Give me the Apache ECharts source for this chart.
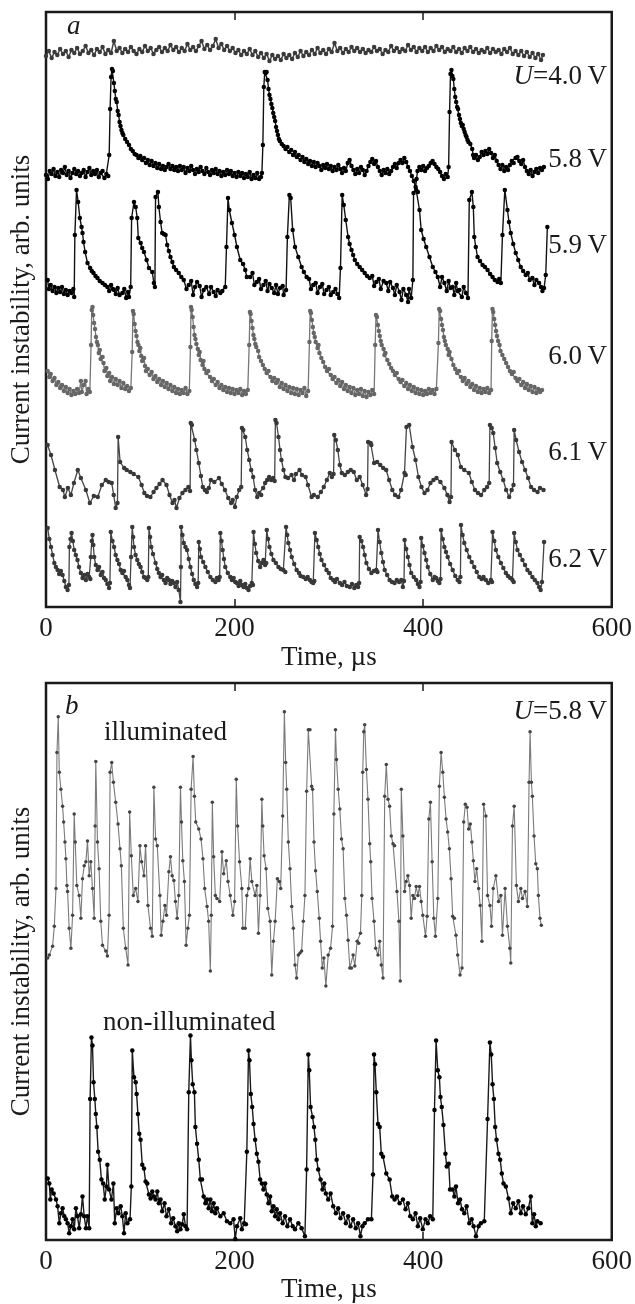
<!DOCTYPE html>
<html>
<head>
<meta charset="utf-8">
<script src="https://cdn.jsdelivr.net/npm/echarts@6/dist/echarts.min.js"></script>
<style>html,body{margin:0;padding:0;background:#fff}#c{width:635px;height:1304px}</style>
</head>
<body>
<div id="c"></div>
<script>
// ---- DATA (time in µs, current instability in arb. units) ----
const xTicks = [0, 200, 400, 600];
const seriesNamesA = ['U=4.0V', '5.8V', '5.9V', '6.0V', '6.1V', '6.2V'];
const seriesNamesB = ['illuminated', 'non-illuminated'];

const u40 = [[0,551],[3,556],[6,549],[9,555],[12,552],[15,558],[18,553],[21,556],[24,550],[27,557],[30,554],[33,559],[36,553],[39,556],[42,561],[45,554],[48,557],[51,552],[54,558],[57,555],[60,560],[63,553],[66,557],[69,554],[72,566],[75,556],[78,559],[81,554],[84,558],[87,555],[90,560],[93,556],[96,553],[99,558],[102,555],[105,561],[108,556],[111,559],[114,553],[117,557],[120,560],[123,555],[126,559],[129,556],[132,562],[135,557],[138,560],[141,555],[144,559],[147,556],[150,563],[153,557],[156,560],[159,556],[162,561],[165,566],[168,558],[171,562],[174,557],[177,561],[180,568],[183,559],[186,563],[189,557],[192,561],[195,556],[198,559],[201,554],[204,557],[207,552],[210,556],[213,553],[216,558],[219,552],[222,556],[225,550],[228,554],[231,549],[234,553],[237,546],[240,552],[243,548],[246,551],[249,547],[252,553],[255,549],[258,552],[261,548],[264,554],[267,550],[270,556],[273,551],[276,555],[279,552],[282,557],[285,553],[288,559],[291,554],[294,557],[297,553],[300,558],[303,555],[306,564],[309,556],[312,559],[315,554],[318,558],[321,555],[324,560],[327,556],[330,559],[333,555],[336,558],[339,554],[342,557],[345,555],[348,560],[351,556],[354,558],[357,553],[360,557],[363,555],[366,561],[369,556],[372,559],[375,555],[378,558],[381,556],[384,562],[387,557],[390,560],[393,555],[396,559],[399,556],[402,560],[405,555],[408,559],[411,556],[414,561],[417,557],[420,560],[423,555],[426,558],[429,556],[432,560],[435,555],[438,558],[441,554],[444,559],[447,556],[450,560],[453,555],[456,558],[459,554],[462,557],[465,555],[468,559],[471,554],[474,558],[477,555],[480,557],[483,553],[486,558],[489,555],[492,559],[495,553],[498,556],[501,552],[504,556],[507,551],[510,555],[513,550],[516,554],[519,549],[522,553],[525,547],[527,552]];

const u58 = [[0,432],[2,428],[4,436],[6,433],[8,438],[10,431],[12,435],[14,430],[16,437],[18,434],[20,440],[22,432],[24,436],[26,429],[28,434],[30,438],[32,433],[34,436],[36,431],[38,434],[40,437],[42,430],[44,435],[46,439],[48,432],[50,436],[52,433],[54,437],[56,430],[58,434],[60,436],[62,429],[64,433],[66,431],[67,452],[68,498],[69,530],[70,538],[71,536],[72,524],[73,516],[74,508],[75,505],[76,496],[77,492],[78,485],[79,481],[80,477],[81,474],[82,472],[84,468],[86,465],[88,462],[90,458],[92,456],[94,453],[96,452],[98,449],[100,451],[102,447],[104,449],[106,444],[108,447],[110,442],[112,446],[114,441],[116,444],[118,439],[120,443],[122,438],[124,441],[126,437],[128,440],[130,443],[132,438],[134,441],[136,437],[138,440],[140,436],[142,441],[144,437],[146,440],[148,434],[150,439],[152,436],[154,441],[156,437],[158,433],[160,438],[162,435],[164,440],[166,436],[168,433],[170,439],[172,435],[174,432],[176,437],[178,434],[180,438],[182,433],[184,436],[186,431],[188,435],[190,432],[192,437],[194,433],[196,436],[198,431],[200,434],[202,430],[204,435],[206,431],[208,434],[210,429],[212,433],[214,430],[216,435],[218,428],[220,432],[222,429],[224,434],[226,428],[228,430],[229,434],[230,462],[231,520],[232,535],[233,534],[234,535],[235,527],[236,518],[237,512],[238,508],[239,503],[240,499],[241,494],[242,490],[243,486],[244,480],[245,476],[246,472],[247,468],[248,466],[250,463],[252,461],[254,458],[256,460],[258,455],[260,457],[262,452],[264,455],[266,450],[268,452],[270,447],[272,450],[274,445],[276,448],[278,443],[280,446],[282,441],[284,445],[286,440],[288,444],[290,441],[292,437],[294,442],[296,439],[298,443],[300,438],[302,441],[304,436],[306,440],[308,437],[310,442],[312,438],[314,434],[316,439],[318,436],[320,444],[322,447],[324,441],[326,437],[328,433],[330,438],[332,434],[334,440],[336,437],[338,432],[340,436],[342,441],[344,445],[346,448],[348,443],[350,446],[352,440],[354,436],[356,432],[358,437],[360,434],[362,438],[364,433],[366,436],[368,440],[370,443],[372,439],[374,444],[376,447],[378,444],[380,449],[382,445],[384,440],[386,436],[388,431],[390,426],[392,420],[393,428],[394,436],[396,440],[398,437],[400,441],[402,436],[404,439],[406,441],[408,444],[410,446],[412,443],[414,440],[416,438],[418,435],[420,431],[422,428],[424,433],[426,430],[427,440],[428,495],[429,533],[430,537],[431,531],[432,528],[433,518],[434,510],[435,505],[436,500],[437,498],[438,492],[439,488],[440,484],[441,481],[442,482],[443,478],[444,475],[445,472],[446,470],[447,467],[448,465],[450,463],[452,458],[453,452],[454,449],[456,452],[458,447],[460,450],[462,455],[464,452],[466,456],[468,453],[470,458],[472,454],[474,449],[476,452],[478,446],[480,442],[482,438],[484,442],[486,436],[488,440],[490,437],[492,442],[494,446],[496,444],[498,449],[500,450],[502,446],[504,443],[506,447],[508,440],[510,436],[512,433],[514,437],[516,431],[518,435],[520,438],[522,434],[524,439],[526,437],[528,440]];

const u59 = [[1.8,327],[3,318],[5,322],[7,316],[9,320],[11,314],[13,319],[15,315],[17,320],[19,313],[21,317],[23,312],[25,316],[27,314],[29,318],[29.9,310],[30.6,372],[32.4,417],[34.1,405],[35.9,389],[37.7,380],[38.7,374],[39.8,365],[41.5,355],[44,344],[46.8,339],[48.5,336],[50.4,334],[52.5,331],[54.6,329],[57,326],[59.9,324],[62.5,322],[65.1,320],[67,316],[69,322],[71,318],[72.2,317],[74,313],[76,319],[78,312],[81,314],[83,318],[85,309],[87,315],[88,310],[89.8,320],[90.8,389],[93.3,405],[95.1,400],[96.8,389],[97.9,369],[100.4,364],[102,359],[103.9,355],[106.7,347],[109.2,339],[112.7,335],[114.4,324],[115.5,320],[116.2,410],[118.7,415],[119.7,400],[121.5,385],[123.2,374],[125,373],[126.8,372],[128.5,362],[130.3,356],[132,350],[134,345],[135.6,340],[138,337],[140.8,334],[143.5,330],[146.1,327],[149,318],[151.4,322],[154,326],[156,312],[158,320],[160.2,325],[163,321],[165,310],[167.2,317],[170,320],[173,313],[175,320],[177.8,315],[180,311],[182,317],[184.9,314],[187,316],[190.1,320],[191.4,360],[193,409],[194.4,397],[197.2,384],[200,372],[202.5,360],[206,347],[209,343],[211.3,337],[213,330],[216.5,330],[219,334],[221,322],[223.6,325],[226,328],[228,318],[230.6,322],[233,326],[235,316],[237,323],[239.4,319],[242,314],[244,322],[246,313],[248.2,319],[251,321],[252,312],[254.6,317],[256,370],[258.1,412],[259.5,409],[261.6,377],[264.1,360],[267.6,350],[271.1,340],[273.5,335],[276.4,330],[279,328],[281,318],[283.4,322],[286,324],[288,314],[290.5,320],[293,323],[295,313],[297.5,317],[300,320],[302,312],[304.6,315],[307,318],[309,313],[310.9,309],[312.3,339],[314.1,412],[315.8,402],[317.9,387],[320.4,370],[322,363],[324,357],[325.7,352],[327.5,347],[330,343],[332.7,340],[335.3,337],[338,334],[340.5,331],[343.3,329],[346,331],[348,321],[350.3,325],[353,328],[355,318],[358,326],[360.9,324],[363,316],[365,325],[368,319],[370,312],[372,322],[375,315],[377,307],[379,318],[382,312],[384,305],[385,318],[387.3,309],[389.1,327],[389.8,414],[392.6,417],[394.4,415],[396.1,397],[397.9,377],[400.5,368],[403.2,360],[406.7,350],[410.2,340],[413,335],[415.5,330],[418,320],[420,330],[422.5,324],[425,316],[427,326],[429,319],[431.3,320],[433,312],[435,324],[436.5,316],[438.4,317],[441,310],[443,320],[445.4,314],[447.5,309],[448.9,407],[451.7,415],[453.2,400],[454.2,370],[455.8,360],[457.7,350],[460.3,346],[463,342],[465.5,340],[468.3,337],[471,333],[473.6,330],[476,327],[478.9,325],[480.6,328],[482.4,324],[484.1,372],[486.6,417],[489.4,397],[491,385],[492.9,374],[495.5,363],[498.2,354],[500.8,347],[503.5,340],[506,336],[508.8,332],[511,334],[513,327],[515.8,329],[518,322],[520,327],[522.9,324],[525,320],[526.5,316],[528.2,319],[530,332],[531.7,380]];

const u60 = [[1.8,236],[3.5,230],[5,233],[7,226],[9,229],[11,222],[13,225],[15,219],[17,222],[19,216],[21,220],[23,214],[25,218],[27,212],[29,216],[31,213],[33,218],[35,214],[37,226],[38,215],[40,222],[42,226],[43,213],[45,218],[46.5,215],[47.8,262],[48.5,297],[49.3,300],[50,292],[51,284],[52,278],[53,270],[54,265],[55,262],[56,254],[57,257],[58,248],[60,250],[61,244],[62,236],[64,239],[65,231],[67,234],[68,226],[70,230],[72,223],[74,228],[76,222],[78,226],[80,219],[82,224],[84,218],[86,221],[88,216],[90,219],[91.4,255],[92.2,296],[93,293],[94,283],[95,276],[96,271],[97,265],[98,262],[99,256],[100,259],[101,251],[102,246],[104,249],[105,241],[106,236],[108,238],[110,232],[112,235],[114,228],[116,231],[118,225],[120,228],[122,222],[124,226],[126,220],[128,224],[130,218],[132,222],[134,216],[136,220],[138,214],[140,218],[142,213],[144,217],[146,214],[148,219],[150,213],[152,216],[153.2,260],[153.8,300],[154.5,297],[155.5,290],[156.5,280],[157.5,272],[158.5,268],[159.5,263],[161,258],[162,252],[163,255],[164,247],[166,242],[167,246],[168,238],[170,234],[172,236],[174,230],[176,226],[178,228],[180,222],[182,225],[184,219],[186,222],[188,217],[190,220],[192,215],[194,219],[196,214],[198,218],[200,213],[202,217],[204,214],[206,218],[208,212],[210,216],[212,213],[214,217],[215.5,262],[216.3,295],[217,293],[218,286],[219,279],[220,272],[221,268],[222,263],[223,260],[225,256],[226,250],[228,246],[230,242],[232,238],[234,234],[236,236],[238,230],[240,226],[242,229],[244,224],[246,227],[248,220],[250,224],[252,218],[254,222],[256,216],[258,220],[260,214],[262,219],[264,213],[266,218],[268,212],[270,217],[272,214],[274,219],[276,211],[278,216],[279.4,265],[280.2,296],[281,294],[282,287],[283,280],[284,274],[285,270],[286,265],[288,259],[289,262],[290,254],[292,249],[294,245],[296,240],[298,236],[300,238],[302,232],[304,228],[306,230],[308,224],[310,227],[312,221],[314,225],[316,218],[318,222],[320,216],[322,220],[324,214],[326,219],[328,212],[330,217],[332,213],[334,218],[336,211],[338,216],[340,210],[342,215],[344,212],[346,217],[348,213],[349.1,262],[350,292],[351,290],[352,282],[353,276],[354,271],[355,266],[356,262],[358,258],[359,252],[360,254],[362,247],[364,243],[366,239],[368,236],[370,232],[372,234],[374,228],[376,225],[378,227],[380,221],[382,224],[384,218],[386,222],[388,216],[390,220],[392,214],[394,218],[396,213],[398,217],[400,212],[402,216],[404,213],[406,218],[408,214],[410,217],[412,213],[414,218],[416.2,264],[417,298],[418,296],[419,288],[420,282],[421,277],[422,270],[423,266],[424,262],[426,258],[427,252],[428,255],[430,248],[432,242],[434,238],[436,234],[438,236],[440,230],[442,226],[444,229],[446,223],[448,226],[450,220],[452,223],[454,217],[456,221],[458,215],[460,219],[462,214],[464,218],[466,215],[468,219],[470,214],[472,217],[472.7,266],[473.5,298],[474.3,295],[475.3,288],[476.3,282],[477.3,276],[478.3,271],[479.5,266],[481,262],[482,256],[484,252],[486,248],[488,244],[490,240],[492,236],[494,233],[496,235],[498,229],[500,226],[502,228],[504,222],[506,225],[508,219],[510,223],[512,217],[514,221],[516,215],[518,220],[520,214],[522,218],[524,215],[526,217]];

const u61 = [[1.7,162],[5.3,152],[9.5,137],[14.5,120],[18,117],[20,110],[23.2,119],[26.4,112],[29.6,124],[33.7,137],[37,129],[42.3,117],[46.5,104],[50.7,111],[54.9,110],[59.2,122],[63.4,127],[66.5,125],[69.7,124],[71.8,112],[73.9,99],[75.8,104],[76.5,170],[78.6,145],[82.9,139],[85.6,137],[89.4,135],[93,133],[97.9,130],[101.4,122],[104.3,114],[107.2,111],[110.7,110],[114.1,115],[117.1,119],[120.4,123],[123.6,127],[127.8,122],[131,112],[134.2,104],[136.3,107],[138.4,99],[141.5,109],[144.7,114],[147.9,117],[151,120],[152.8,116],[153.5,184],[154.7,182],[157.7,167],[159.5,157],[162,144],[164.3,131],[166.3,120],[168.5,117],[170.6,115],[172.7,119],[174.8,127],[178.5,125],[183.4,129],[186.4,123],[189.8,117],[193.3,109],[196.3,104],[198,107],[200.5,100],[202.3,110],[204.8,117],[207,120],[207.8,179],[209.2,177],[211.3,170],[213.4,157],[215.5,147],[217.6,137],[219.7,130],[221.8,117],[224,110],[226.1,114],[228.2,112],[230.3,119],[232.4,124],[234.5,127],[236.6,130],[238.7,127],[240.8,129],[242.5,126],[243.3,187],[244.5,184],[246.6,170],[248.2,157],[249.7,147],[251.9,137],[253.9,130],[256.7,129],[260.4,132],[263,127],[265.1,133],[268.9,137],[271.5,132],[275.4,130],[277.8,122],[281.7,110],[284.1,112],[288.2,110],[291.5,115],[294.6,120],[297.9,127],[301,134],[303.2,130],[305,133],[305.7,172],[307.4,167],[309.5,157],[311.6,142],[313.7,134],[316.9,132],[320.1,135],[323.2,137],[326.4,135],[329.6,127],[332.7,130],[335.9,122],[339.5,112],[341,118],[341.6,165],[344.3,164],[345,162],[348,144],[351.2,145],[354.5,142],[357.6,139],[360.8,137],[363.9,127],[367.3,117],[370.2,112],[373.7,110],[376.6,117],[380.2,134],[381.5,132],[382.3,180],[385.2,182],[388.7,160],[391.9,147],[395,130],[398.2,120],[401.4,114],[404.6,117],[407.7,124],[410.9,127],[414.1,129],[418.3,125],[422.5,119],[425.7,112],[428,105],[429.5,110],[430.1,165],[433.6,157],[436.8,152],[440,140],[443.6,137],[448.5,134],[451.6,125],[454.9,117],[458.1,114],[461.4,112],[464.8,117],[467.8,120],[470,124],[470.8,182],[472.7,179],[474.3,174],[476.4,159],[478.5,144],[481.7,135],[484.9,127],[488,117],[491.2,110],[493.8,117],[495.8,122],[496.5,177],[498.6,167],[501.7,155],[504.9,145],[508.1,137],[511.3,129],[514.4,120],[517.6,117],[521.3,115],[523.9,119],[527.6,117]];

const u62 = [[1.8,79],[3.5,68],[5.3,60],[7,52],[8.8,44],[10.5,40],[12.3,37],[14,33],[15.8,36],[17.6,32],[19.4,26],[21.1,20],[22.9,17],[24.3,22],[24.8,60],[26,68],[27.1,74],[28.5,66],[29.9,57],[31.6,52],[33.4,47],[35,40],[37,34],[38.8,29],[40.5,32],[42.3,27],[44,33],[45.8,30],[47,28],[47.5,50],[48.5,66],[49.3,72],[50.2,62],[51.1,50],[52.8,42],[54.6,37],[56.3,40],[58.1,32],[59.9,35],[61.6,29],[63.4,27],[65.1,23],[66.9,19],[67.8,24],[68.7,75],[70.5,66],[72.2,60],[73.9,52],[75.7,47],[77.5,43],[79.2,37],[81,34],[82.7,36],[84.5,30],[86.3,27],[88,22],[89.1,19],[90.2,50],[91.5,80],[92.4,70],[93.3,60],[95,52],[96.8,47],[98.5,43],[100.3,40],[102,35],[103.9,30],[105.6,29],[107.4,27],[108.5,30],[109.2,79],[110.4,70],[111.6,60],[113.5,53],[116.2,44],[118,38],[119.7,34],[121.5,30],[123.2,32],[125,27],[126.8,24],[128.5,29],[130.3,27],[132,23],[133.8,26],[135.6,24],[137.3,20],[139.1,25],[140.8,17],[142.6,5],[143.1,40],[143.3,80],[144.7,72],[146.1,64],[147.9,60],[149.6,57],[151.4,48],[153.2,40],[155,33],[156.7,27],[158.4,23],[160.2,20],[161.4,24],[162,65],[163.2,58],[164.4,50],[166.7,45],[169,40],[171.6,35],[174.3,30],[176.9,27],[179.6,25],[181.3,29],[183.1,27],[184.2,30],[184.9,74],[186.1,66],[187.3,57],[188.7,48],[190.1,40],[192.8,34],[195.4,30],[197.2,27],[199,29],[200.7,25],[202.5,24],[204.3,21],[206,26],[207.7,22],[209.5,20],[211.3,23],[213,19],[214.8,17],[216.5,21],[218.3,24],[219.5,22],[220.1,75],[221.5,63],[222.9,54],[225,46],[227.1,40],[228.9,44],[230.6,47],[232.4,42],[233.5,44],[234.1,77],[235.5,68],[237,60],[239,53],[241.2,47],[243.8,44],[246.5,40],[249,38],[251.7,37],[253.8,35],[254.6,80],[255.8,72],[257,64],[258.8,57],[260.6,50],[263.2,43],[265.8,37],[268.4,34],[270,31],[272.9,30],[275.5,28],[277.5,30],[279.9,27],[281.6,25],[283.4,24],[284.6,26],[285.2,74],[287,67],[288.7,60],[290.4,53],[292.2,47],[294.9,42],[297.5,37],[300,34],[302,29],[304.6,27],[306.5,25],[308.5,28],[311.6,24],[314,22],[316.5,25],[319,21],[322.2,20],[324.5,23],[327,19],[329,22],[331,20],[332.1,24],[332.7,70],[334.5,66],[336.3,60],[338,52],[339.8,44],[342.5,38],[345.1,34],[347.7,36],[350.3,37],[351.5,35],[352.1,77],[353.8,65],[355.6,54],[357.4,45],[359.2,37],[361.8,32],[364.4,27],[367,25],[369.7,24],[372,27],[374.5,25],[376.8,27],[378.5,20],[379.7,26],[380.3,67],[382,58],[383.8,50],[385.5,42],[387.3,34],[390,30],[392.6,27],[394.4,23],[396.1,20],[397.3,25],[397.9,69],[399.6,61],[401.4,54],[403.2,47],[404.9,40],[407.5,33],[410.2,27],[412,30],[413.7,29],[415.5,26],[417.2,24],[418.4,28],[419,77],[420.8,68],[422.5,60],[424.2,55],[426,50],[428.6,43],[431.3,37],[434,31],[436.6,27],[438.5,25],[439.5,30],[440.1,82],[441.8,72],[443.6,64],[446.2,57],[448.9,50],[451.5,45],[454.2,40],[456.8,35],[459.5,30],[462,28],[464,30],[466.5,27],[469,24],[471.8,27],[473,25],[473.6,75],[475.4,66],[477.1,57],[479.7,50],[482.4,44],[485,39],[487.7,34],[490,31],[492.3,29],[494.7,27],[496,25],[496.5,74],[498.2,65],[500,57],[502.6,52],[505.3,47],[508,42],[510.6,37],[513.2,34],[515.8,30],[518.4,27],[521.1,24],[523,20],[524.6,17],[526,25],[528.2,65]];

const illuminated = [[1.8,284],[3.5,287],[7.0,296],[8.8,316],[10.6,354],[11.6,491],[13.0,527],[14.1,471],[15.8,454],[17.6,437],[18.7,421],[20.1,401],[21.1,384],[22.2,357],[22.9,351],[24.6,314],[26.4,294],[28.2,327],[29.9,429],[31.0,401],[32.7,357],[35.2,347],[37.0,324],[38.7,364],[40.5,377],[42.3,381],[44.0,402],[45.8,367],[47.5,381],[49.3,354],[51.1,324],[52.1,417],[52.8,482],[54.6,401],[56.3,374],[58.1,321],[59.9,297],[63.4,291],[65.1,286],[66.9,327],[68.0,471],[69.7,481],[71.5,461],[73.9,441],[76.4,419],[78.5,394],[79.9,377],[82.0,314],[84.5,294],[87.0,277],[88.7,431],[90.5,387],[92.6,347],[95.1,354],[97.5,341],[99.6,397],[101.4,381],[103.9,367],[105.6,397],[108.1,337],[110.9,314],[112.7,306],[114.4,456],[116.2,404],[118.0,397],[120.8,347],[122.2,307],[124.0,321],[126.1,337],[127.8,327],[130.3,371],[132.0,386],[133.8,367],[135.6,362],[137.3,341],[139.1,324],[140.8,347],[142.6,456],[143.7,421],[145.1,382],[146.8,361],[148.6,297],[150.4,314],[152.1,327],[153.9,454],[156.0,487],[157.4,447],[158.8,421],[162.0,414],[164.4,404],[166.5,384],[168.3,354],[170.8,336],[172.5,321],[174.3,271],[175.3,327],[176.4,441],[177.8,386],[179.6,347],[181.3,344],[184.2,341],[186.6,391],[188.4,369],[191.2,382],[193.0,361],[195.4,347],[198.2,327],[200.0,341],[201.8,464],[203.2,417],[205.3,381],[207.7,354],[208.8,314],[211.3,314],[213.0,347],[214.8,354],[216.5,384],[218.3,361],[221.8,347],[223.6,357],[225.3,309],[227.1,347],[228.9,444],[229.9,417],[231.3,387],[233.4,374],[235.2,334],[237.7,321],[239.4,267],[241.2,301],[243.0,321],[245.4,364],[247.5,361],[248.9,354],[251.0,427],[252.8,532],[254.2,481],[255.3,454],[257.0,401],[258.8,374],[260.6,336],[262.3,314],[264.1,277],[265.8,264],[267.6,287],[269.4,289],[271.1,291],[272.9,321],[274.6,347],[276.4,452],[278.2,514],[279.9,514],[281.7,457],[282.7,454],[284.2,401],[285.9,372],[287.7,351],[289.8,324],[291.2,301],[293.0,274],[294.7,284],[296.8,256],[299.3,287],[301.8,294],[303.9,316],[305.3,429],[307.0,514],[308.1,484],[309.9,454],[311.6,434],[313.4,404],[315.1,394],[316.9,344],[318.7,327],[320.4,302],[322.2,274],[324.0,274],[325.7,287],[327.5,276],[330.0,301],[331.7,299],[333.5,309],[334.9,347],[335.9,471],[337.0,512],[338.0,519],[339.8,474],[341.5,444],[343.3,399],[344.4,381],[345.8,344],[347.9,321],[349.6,294],[352.1,287],[353.9,301],[355.6,277],[357.4,264],[359.2,447],[360.9,479],[362.7,444],[364.4,437],[366.2,407],[368.0,399],[369.7,397],[372.2,351],[374.3,321],[375.7,261],[376.8,454],[378.5,407],[380.3,351],[382.0,361],[383.8,367],[385.6,357],[387.3,324],[389.1,347],[390.8,344],[392.6,356],[394.4,347],[396.1,356],[397.9,341],[399.6,327],[402.5,306],[404.2,326],[406.0,424],[407.7,441],[409.5,381],[411.3,324],[413.0,306],[415.5,344],[417.2,457],[419.0,491],[420.8,471],[422.5,446],[424.3,424],[426.0,411],[427.8,394],[429.6,364],[431.3,326],[433.1,324],[434.8,307],[436.6,287],[439.1,267],[441.2,274],[443.0,421],[444.7,439],[446.5,436],[448.2,414],[450.0,419],[451.7,401],[453.2,382],[454.9,361],[456.7,374],[458.8,354],[460.5,337],[462.3,301],[464.1,439],[466.5,427],[468.3,347],[470.8,337],[472.5,316],[474.3,354],[477.1,367],[479.9,341],[482.4,347],[484.1,307],[486.9,354],[489.4,316],[491.9,294],[492.9,279],[494.7,417],[496.5,437],[498.9,357],[501.0,341],[503.5,354],[505.3,344],[508.1,351],[510.6,336],[512.3,461],[513.4,512],[514.8,461],[515.8,447],[517.6,407],[519.4,379],[521.1,374],[522.2,347],[523.9,324],[525.3,317]];

const nonIlluminated = [[1.8,62],[3.5,57],[4.6,41],[6.0,51],[8.1,47],[10.6,41],[12.3,34],[14.1,17],[15.8,27],[17.6,32],[19.4,24],[21.1,21],[22.9,17],[24.6,7],[26.4,14],[28.2,21],[29.9,11],[31.7,32],[33.4,24],[35.2,12],[37.0,26],[38.7,44],[40.5,24],[42.3,12],[44.0,24],[45.8,12],[46.8,142],[48.2,204],[49.3,196],[50.4,159],[51.8,142],[52.8,127],[53.9,114],[55.3,89],[57.0,81],[58.8,61],[60.6,57],[62.3,41],[64.1,54],[65.1,76],[66.9,51],[69.4,41],[71.5,57],[72.9,17],[75.0,32],[76.8,27],[79.2,34],[81.0,24],[82.7,7],[84.5,27],[86.3,17],[89.1,21],[90.5,54],[91.5,191],[93.3,164],[95.1,159],[96.1,147],[97.5,127],[98.9,107],[100.3,101],[102.1,76],[103.9,72],[105.6,59],[107.4,57],[109.2,46],[110.9,42],[112.7,49],[114.4,44],[116.2,41],[118.0,49],[119.7,37],[121.5,41],[123.2,29],[125.7,37],[127.8,24],[130.3,31],[132.7,17],[134.9,22],[137.3,14],[139.1,9],[140.8,17],[142.6,11],[144.4,16],[146.1,26],[147.9,14],[149.6,11],[151.4,149],[153.2,206],[154.2,181],[155.6,157],[157.4,149],[158.4,114],[160.2,97],[162.0,81],[163.7,61],[165.5,61],[167.2,44],[169.0,37],[170.8,41],[172.5,32],[174.3,41],[176.0,29],[177.8,37],[179.6,27],[181.3,32],[184.9,24],[188.4,27],[191.9,19],[195.4,17],[198.9,21],[200.7,1],[202.5,14],[206.0,22],[207.7,11],[210.2,17],[212.0,16],[213.0,89],[214.8,191],[215.8,181],[217.2,147],[218.7,134],[220.1,117],[221.8,101],[223.6,87],[225.3,79],[227.1,61],[228.9,57],[230.6,51],[232.4,57],[234.1,46],[235.9,37],[237.7,44],[239.4,29],[241.2,34],[243.0,24],[244.7,31],[246.5,21],[248.2,27],[251.0,17],[253.5,24],[256.0,14],[258.8,21],[261.6,14],[264.1,11],[267.6,17],[271.1,12],[274.6,4],[276.4,71],[278.2,187],[279.2,171],[280.6,134],[282.7,124],[284.2,114],[285.6,101],[287.0,81],[288.7,71],[291.2,61],[293.3,51],[295.1,57],[296.8,47],[299.3,41],[301.8,47],[304.6,34],[307.4,27],[309.9,32],[312.3,22],[315.1,27],[318.0,17],[320.4,24],[322.9,14],[325.7,21],[328.5,12],[331.0,17],[333.5,4],[335.6,14],[338.0,17],[341.5,21],[345.1,21],[346.8,66],[347.9,187],[348.9,177],[350.3,149],[352.1,117],[353.9,114],[355.6,87],[357.4,84],[360.9,67],[364.4,61],[367.2,44],[369.7,41],[372.2,44],[375.0,37],[378.5,41],[381.3,31],[383.8,37],[386.3,24],[389.1,21],[391.9,27],[394.4,14],[396.8,22],[399.6,11],[402.5,21],[404.9,17],[407.4,24],[410.2,21],[412.0,131],[413.7,201],[415.5,171],[417.2,164],[418.3,144],[419.7,134],[421.5,116],[423.6,87],[425.0,74],[427.1,77],[428.5,51],[431.3,51],[433.1,44],[434.8,54],[437.0,37],[439.1,41],[441.2,31],[443.6,27],[446.1,34],[448.9,17],[451.4,21],[453.5,14],[456.0,4],[458.8,14],[461.2,17],[464.8,19],[468.3,122],[470.8,199],[472.2,187],[473.6,157],[475.0,142],[476.4,114],[477.8,101],[479.9,87],[481.7,81],[483.4,67],[485.2,57],[487.7,54],[490.5,42],[492.9,27],[495.4,37],[498.2,32],[501.0,39],[503.5,27],[505.9,34],[508.8,26],[511.6,32],[514.1,44],[515.8,17],[517.6,26],[519.4,14],[521.1,19],[524.6,17]];

// ---- CHART ----
const serif = 'Liberation Serif';
const ink = '#1a1a1a';
const chart = echarts.init(document.getElementById('c'), null, {renderer: 'canvas'});

function xAxes(gi) {
  const common = {
    gridIndex: gi, type: 'value', min: xTicks[0], max: xTicks[xTicks.length - 1], interval: 200,
    axisLine: {show: false}, splitLine: {show: false},
    axisTick: {show: true, inside: true, length: 8, lineStyle: {color: ink, width: 1.5}}
  };
  return [
    Object.assign({}, common, {
      position: 'bottom',
      axisLabel: {margin: 8, fontFamily: serif, fontSize: 27, color: ink},
      name: 'Time, µs', nameLocation: 'middle', nameGap: gi === 0 ? 37 : 35,
      nameTextStyle: {fontFamily: serif, fontSize: 27, color: ink}
    }),
    Object.assign({}, common, {position: 'top', axisLabel: {show: false}})
  ];
}
function yAxis(gi, max) {
  return {
    gridIndex: gi, type: 'value', min: 0, max: max,
    axisLine: {show: false}, axisTick: {show: false}, axisLabel: {show: false}, splitLine: {show: false},
    name: 'Current instability, arb. units', nameLocation: 'middle', nameRotate: 90, nameGap: 11,
    nameTextStyle: {fontFamily: serif, fontSize: 27, color: ink}
  };
}
function trace(name, data, gi, lineColor, dotColor, size, width) {
  return {
    name: name, type: 'line', xAxisIndex: gi * 2, yAxisIndex: gi, data: data,
    symbol: 'circle', symbolSize: size, showSymbol: true,
    lineStyle: {color: lineColor, width: width},
    itemStyle: {color: dotColor}, animation: false, silent: true
  };
}
function label(x, y, text, align, italic) {
  return {
    type: 'text', x: x, y: y, silent: true,
    style: {text: text, fill: ink, align: align, verticalAlign: 'middle',
      font: (italic ? 'italic ' : '') + '27px "' + serif + '"'}
  };
}
function ulabel(x, y, rest) {
  return {
    type: 'text', x: x, y: y, silent: true,
    style: {text: '{i|U}{n|' + rest + '}', align: 'right', verticalAlign: 'middle',
      rich: {i: {fontFamily: serif, fontStyle: 'italic', fontSize: 27, fill: ink},
             n: {fontFamily: serif, fontSize: 27, fill: ink}}}
  };
}

chart.setOption({
  backgroundColor: '#fff',
  animation: false,
  grid: [
    {left: 45, right: 22, top: 12, height: 595, show: true, borderColor: ink, borderWidth: 2.5, backgroundColor: 'transparent'},
    {left: 45, right: 22, top: 683, height: 561, show: true, borderColor: ink, borderWidth: 2.5, backgroundColor: 'transparent'}
  ],
  xAxis: xAxes(0).concat(xAxes(1)),
  yAxis: [yAxis(0, 595), yAxis(1, 561)],
  series: [
    trace(seriesNamesA[0], u40, 0, '#444', '#3a3a3a', 4.5, 1.5),
    trace(seriesNamesA[1], u58, 0, '#111', '#000', 4.5, 1.4),
    trace(seriesNamesA[2], u59, 0, '#111', '#000', 4.5, 1.4),
    trace(seriesNamesA[3], u60, 0, '#777', '#666', 4.5, 1.3),
    trace(seriesNamesA[4], u61, 0, '#444', '#383838', 4.5, 1.3),
    trace(seriesNamesA[5], u62, 0, '#444', '#383838', 4.5, 1.3),
    trace(seriesNamesB[0], illuminated, 1, '#7a7a7a', '#444', 3.5, 1.1),
    trace(seriesNamesB[1], nonIlluminated, 1, '#1a1a1a', '#000', 4.5, 1.4)
  ],
  graphic: [
    label(67, 27, 'a', 'left', true),
    ulabel(607, 77, '=4.0\u2009V'),
    label(607, 160, '5.8\u2009V', 'right', false),
    label(607, 246, '5.9\u2009V', 'right', false),
    label(607, 357, '6.0\u2009V', 'right', false),
    label(607, 453, '6.1\u2009V', 'right', false),
    label(607, 560, '6.2\u2009V', 'right', false),
    label(65, 707, 'b', 'left', true),
    ulabel(607, 712, '=5.8\u2009V'),
    label(104, 733, seriesNamesB[0], 'left', false),
    label(103, 1023, seriesNamesB[1], 'left', false)
  ]
});
</script>
</body>
</html>
